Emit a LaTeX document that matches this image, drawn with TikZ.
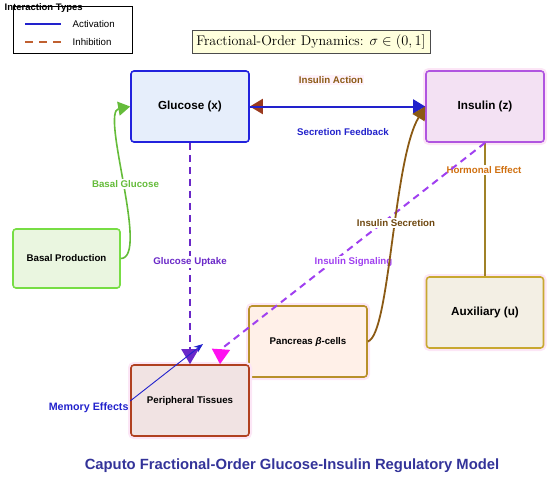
\documentclass[tikz,border=0pt]{standalone}
\usepackage{fontspec}
\setsansfont{Liberation Sans}
\usetikzlibrary{arrows.meta}
\definecolor{glufill}{HTML}{E6EEFB}
\definecolor{gluline}{HTML}{2222DD}
\definecolor{insfill}{HTML}{F3E1F3}
\definecolor{insline}{HTML}{B055E0}
\definecolor{basfill}{HTML}{EAF6E0}
\definecolor{basline}{HTML}{77DD44}
\definecolor{auxfill}{HTML}{F3EFE4}
\definecolor{auxline}{HTML}{C8A830}
\definecolor{panfill}{HTML}{FFF0E8}
\definecolor{panline}{HTML}{B8902A}
\definecolor{perfill}{HTML}{F1E3E3}
\definecolor{perline}{HTML}{B04020}
\definecolor{halo}{HTML}{FCE6F6}
\definecolor{actblue}{HTML}{2222CC}
\definecolor{inhbrown}{HTML}{9A3A1E}
\definecolor{secbrown}{HTML}{8B5A14}
\definecolor{upviolet}{HTML}{6A28C8}
\definecolor{sigviolet}{HTML}{A040F0}
\definecolor{sigmag}{HTML}{FF10F0}
\definecolor{hormline}{HTML}{A08228}
\definecolor{hormlab}{HTML}{D07010}
\definecolor{titleblue}{HTML}{333399}
\definecolor{formfill}{HTML}{FFFFDD}
\definecolor{legbrown}{HTML}{C06030}
\begin{document}
\begin{tikzpicture}[x=1pt,y=-1pt,
  box/.style={rounded corners=3pt, line width=1.6pt, inner sep=0pt,
    font=\sffamily\bfseries\fontsize{9.7}{12}\selectfont, text=black},
  bigbox/.style={box, font=\sffamily\bfseries\fontsize{11.7}{14}\selectfont},
  haloed/.style={preaction={draw=halo, line width=6pt}},
  lab/.style={font=\sffamily\bfseries\fontsize{9.7}{11}\selectfont, fill=white, inner sep=1pt},
  dashline/.style={line width=2pt, dash pattern=on 7pt off 5pt}
]
\useasboundingbox (0,0) rectangle (550,496);

% nodes
\node[bigbox, draw=gluline, fill=glufill, minimum width=118pt, minimum height=71pt] (glu) at (190,106.5) {Glucose (x)};
\node[bigbox, haloed, draw=insline, fill=insfill, minimum width=118pt, minimum height=71pt] (ins) at (485,106.5) {Insulin (z)};
\node[box, draw=basline, fill=basfill, minimum width=107pt, minimum height=59pt] (bas) at (66.5,258.5) {Basal Production};
\node[bigbox, haloed, draw=auxline, fill=auxfill, minimum width=117pt, minimum height=71pt] (aux) at (485,312.5) {Auxiliary (u)};
\node[box, haloed, draw=panline, fill=panfill, minimum width=118pt, minimum height=71pt] (pan) at (308,341.5) {Pancreas {\itshape β}-cells};
\node[box, haloed, draw=perline, fill=perfill, minimum width=118pt, minimum height=71pt] (per) at (190,400.5) {Peripheral Tissues};

% formula box and title
\node[draw=black!70, fill=formfill, line width=0.8pt, minimum width=238pt, minimum height=23pt, inner sep=2pt,
  font=\fontsize{14}{16}\selectfont] (form) at (311,41.5) {Fractional-Order Dynamics: $\sigma\in(0,1]$};
\node[font=\sffamily\bfseries\fontsize{14.8}{17}\selectfont, text=titleblue] (title) at (292,466)
  {Caputo Fractional-Order Glucose-Insulin Regulatory Model};

% legend
\node[draw=black, fill=white, line width=1pt, minimum width=119pt, minimum height=47pt, inner sep=0pt] (leg) at (72.5,29.5) {};
\node[font=\sffamily\bfseries\fontsize{9.5}{10}\selectfont, anchor=base west, inner sep=0pt] (legtitle) at (4.5,10) {Interaction Types};
\draw[actblue, line width=2pt] (25,24) -- (61,24);
\draw[legbrown, line width=2pt, dash pattern=on 8pt off 6pt] (25,42) -- (61,42);
\node[font=\sffamily\fontsize{9.7}{11}\selectfont, anchor=west, inner sep=0pt] (legact) at (72.5,24) {Activation};
\node[font=\sffamily\fontsize{9.7}{11}\selectfont, anchor=west, inner sep=0pt] (leginh) at (72.5,42) {Inhibition};

% connectors
\draw[inhbrown, line width=2pt, -{Triangle[width=15pt,length=13pt]}] (ins.west) -- (glu.east);
\draw[actblue, line width=2pt, -{Triangle[width=14pt,length=12pt]}] (glu.east) -- (ins.west);
\node[lab, text=secbrown, fill=halo!50] (lIA) at (331,80) {Insulin Action};
\node[lab, text=actblue] (lSF) at (343,132) {Secretion Feedback};

\draw[basline!85!black, line width=1.6pt, -{Triangle[width=14pt,length=12pt]}]
  (bas.east) .. controls (150,258) and (100,112) .. (glu.west);
\node[lab, text=basline!85!black] (lBG) at (125.5,184) {Basal Glucose};

\draw[upviolet, dashline, -{Triangle[width=17pt,length=15pt]}] (glu.south) -- (per.north);
\node[lab, text=upviolet] (lGU) at (190,262) {Glucose Uptake};

\draw[hormline, line width=1.6pt] (aux.north) -- (ins.south);
\node[lab, text=hormlab] (lHE) at (484,170) {Hormonal Effect};

\draw[sigviolet, dashline] (ins.south) -- ([xshift=31pt,yshift=15pt]per.north);
\draw[sigmag, line width=2pt, -{Triangle[width=18pt,length=15pt]}] ([xshift=31pt,yshift=15pt]per.north) -- ([xshift=30pt]per.north);
\node[lab, text=sigviolet] (lIS) at (353.5,262) {Insulin Signaling};

\draw[secbrown, line width=1.8pt, -{Triangle[width=14pt,length=13pt]}]
  (pan.east) .. controls (390,335) and (393,160) .. (ins.west);
\node[lab, text=secbrown!80!black] (lSec) at (396,223) {Insulin Secretion};

\coordinate (memend) at (203,344);
\draw[actblue, line width=0.9pt, -{Stealth[width=7pt,length=9pt]}] ([yshift=-0.5pt]per.west) -- (memend);
\node[lab, text=actblue, fill=none, anchor=east, font=\sffamily\bfseries\fontsize{10.7}{12}\selectfont] (lME) at ([xshift=-0.5pt,yshift=-7.5pt]per.west) {Memory Effects};
\end{tikzpicture}
\end{document}
